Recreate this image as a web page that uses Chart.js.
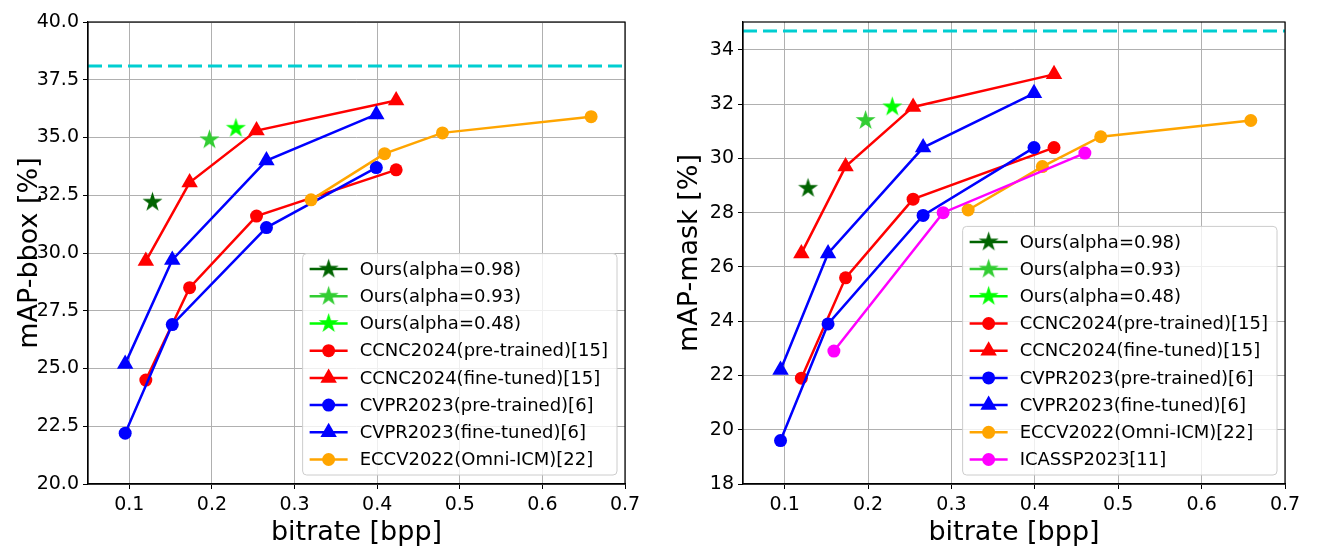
<!DOCTYPE html>
<html>
<head>
<meta charset="utf-8">
<script src="https://cdn.jsdelivr.net/npm/chart.js@4.4.1/dist/chart.umd.min.js"></script>
<style>
  body { margin: 0; background: #fff; }
  .wrap { position: absolute; top: 0; width: 660px; height: 550px; }
</style>
</head>
<body>
<div class="wrap" style="left:0"><canvas id="bboxChart" width="660" height="550"></canvas></div>
<div class="wrap" style="left:660px"><canvas id="maskChart" width="660" height="550"></canvas></div>
<script>
// bitrates (bpp)
const oursRates = [0.128, 0.197, 0.229];
const ccncRates = [0.12, 0.173, 0.254, 0.423];
const cvprRates = [0.095, 0.152, 0.266, 0.399];
const eccvRates = [0.32, 0.409, 0.479, 0.659];
const icasspRates = [0.159, 0.29, 0.46];

// mAP-bbox [%]
const bboxOurs = [32.2, 34.9, 35.4];
const bboxCcncPre = [24.5, 28.5, 31.6, 33.6];
const bboxCcncFine = [29.65, 33.05, 35.3, 36.6];
const bboxCvprPre = [22.2, 26.9, 31.1, 33.7];
const bboxCvprFine = [25.2, 29.7, 34.0, 36.0];
const bboxEccv = [32.3, 34.3, 35.2, 35.9];
const bboxRef = 38.1;

// mAP-mask [%]
const maskOurs = [28.9, 31.4, 31.9];
const maskCcncPre = [21.9, 25.6, 28.5, 30.4];
const maskCcncFine = [26.5, 29.7, 31.9, 33.1];
const maskCvprPre = [19.6, 23.9, 27.9, 30.4];
const maskCvprFine = [22.2, 26.5, 30.4, 32.4];
const maskEccv = [28.1, 29.7, 30.8, 31.4];
const maskIcassp = [22.9, 28.0, 30.2];
const maskRef = 34.7;

const xTicks = [0.1, 0.2, 0.3, 0.4, 0.5, 0.6, 0.7];
const bboxTicks = [20, 22.5, 25, 27.5, 30, 32.5, 35, 37.5, 40];
const maskTicks = [18, 20, 22, 24, 26, 28, 30, 32, 34];

const oursLabels = ['Ours(alpha=0.98)', 'Ours(alpha=0.93)', 'Ours(alpha=0.48)'];
const oursColors = ['#006400', '#32cd32', '#00ff00'];

const FONT = '"DejaVu Sans", sans-serif';

function makeStar(color, r) {
  const c = document.createElement('canvas');
  c.width = c.height = Math.ceil(2 * r + 2);
  const g = c.getContext('2d');
  const cx = c.width / 2, cy = c.height / 2;
  g.beginPath();
  for (let i = 0; i < 10; i++) {
    const rad = i % 2 === 0 ? r : r * 0.382;
    const ang = -Math.PI / 2 + i * Math.PI / 5;
    const px = cx + rad * Math.cos(ang), py = cy + rad * Math.sin(ang);
    if (i === 0) g.moveTo(px, py); else g.lineTo(px, py);
  }
  g.closePath();
  g.fillStyle = color;
  g.fill();
  return c;
}

function pts(xs, ys) {
  return xs.map((x, i) => ({ x: x, y: ys[i] }));
}

function series(label, color, style, xs, ys) {
  const radius = style === 'triangle' ? 9.5 : 6.5;
  return {
    label: label, data: pts(xs, ys),
    borderColor: color, backgroundColor: color,
    borderWidth: 2.5, pointStyle: style, pointRadius: radius,
    pointBorderWidth: 0, tension: 0
  };
}

function oursSets(ys) {
  return ys.map((y, i) => ({
    label: oursLabels[i], data: [{ x: oursRates[i], y: y }],
    borderColor: oursColors[i], backgroundColor: oursColors[i],
    borderWidth: 2.5, pointStyle: makeStar(oursColors[i], 10.5), pointRadius: 10,
    showLine: false
  }));
}

function refLine(y) {
  return {
    label: '', noLegend: true,
    data: [{ x: 0.05, y: y }, { x: 0.7, y: y }],
    borderColor: '#00ced1', borderWidth: 3, borderDash: [14, 6],
    pointRadius: 0
  };
}

const boxLegend = {
  id: 'boxLegend',
  afterDraw(chart) {
    const items = chart.data.datasets.filter(d => !d.noLegend);
    const ctx = chart.ctx, a = chart.chartArea;
    ctx.save();
    ctx.font = '18px ' + FONT;
    const tw = Math.max(...items.map(d => ctx.measureText(d.label).width));
    const rowH = 27.2;
    const w = 57 + tw + 9;
    const h = (items.length - 1) * rowH + 31;
    const x0 = a.right - 8 - w, y0 = a.bottom - 9 - h;
    ctx.beginPath();
    ctx.roundRect(x0, y0, w, h, 4);
    ctx.fillStyle = 'rgba(255,255,255,0.8)';
    ctx.fill();
    ctx.strokeStyle = '#cccccc';
    ctx.lineWidth = 1;
    ctx.stroke();
    items.forEach((d, i) => {
      const cy = y0 + 15.5 + i * rowH;
      ctx.beginPath();
      ctx.moveTo(x0 + 7, cy);
      ctx.lineTo(x0 + 45, cy);
      ctx.strokeStyle = d.borderColor;
      ctx.lineWidth = d.borderWidth;
      ctx.stroke();
      ctx.fillStyle = d.backgroundColor;
      ctx.strokeStyle = d.borderColor;
      Chart.helpers.drawPoint(ctx, { pointStyle: d.pointStyle, radius: d.pointRadius, borderWidth: 0, rotation: 0 }, x0 + 26, cy);
      ctx.fillStyle = '#000';
      ctx.textBaseline = 'middle';
      ctx.textAlign = 'left';
      ctx.fillText(d.label, x0 + 57, cy + 1);
    });
    ctx.restore();
  }
};

const frame = {
  id: 'frame',
  afterDatasetsDraw(chart) {
    const a = chart.chartArea, ctx = chart.ctx;
    ctx.save();
    ctx.strokeStyle = '#000';
    ctx.lineWidth = 1.2;
    ctx.strokeRect(a.left, a.top, a.right - a.left, a.bottom - a.top);
    ctx.restore();
  }
};

function makeChart(id, datasets, yTicks, yMin, yMax, yTitle, yWidth, yFmt) {
  datasets.forEach((d, i) => { d.order = -i; });
  new Chart(document.getElementById(id).getContext('2d'), {
    type: 'line',
    data: { datasets: datasets },
    plugins: [frame, boxLegend],
    options: {
      responsive: false, animation: false, events: [],
      layout: { padding: { top: 22, right: 35, bottom: 0, left: 0 } },
      plugins: { legend: { display: false }, tooltip: { enabled: false } },
      scales: {
        x: {
          type: 'linear', min: 0.05, max: 0.7,
          afterBuildTicks: s => { s.ticks = xTicks.map(v => ({ value: v })); },
          afterFit: s => { s.height = 66; },
          grid: { color: '#b0b0b0', lineWidth: 1, tickColor: '#000', tickLength: 5 },
          border: { color: '#000', width: 1.2 },
          ticks: { color: '#000', font: { family: FONT, size: 19 }, padding: 5, maxRotation: 0,
                   callback: v => v.toFixed(1) },
          title: { display: true, text: 'bitrate [bpp]', color: '#000',
                   font: { family: FONT, size: 27 }, padding: { top: 0, bottom: 1 } }
        },
        y: {
          type: 'linear', min: yMin, max: yMax,
          afterBuildTicks: s => { s.ticks = yTicks.map(v => ({ value: v })); },
          afterFit: s => { s.width = yWidth; },
          grid: { color: '#b0b0b0', lineWidth: 1, tickColor: '#000', tickLength: 5 },
          border: { color: '#000', width: 1.2 },
          ticks: { color: '#000', font: { family: FONT, size: 19 }, padding: 4, callback: yFmt },
          title: { display: true, text: yTitle, color: '#000',
                   font: { family: FONT, size: 27 }, padding: { top: 14, bottom: 0 } }
        }
      }
    }
  });
}

makeChart('bboxChart', [
  ...oursSets(bboxOurs),
  series('CCNC2024(pre-trained)[15]', '#ff0000', 'circle', ccncRates, bboxCcncPre),
  series('CCNC2024(fine-tuned)[15]', '#ff0000', 'triangle', ccncRates, bboxCcncFine),
  series('CVPR2023(pre-trained)[6]', '#0000ff', 'circle', cvprRates, bboxCvprPre),
  series('CVPR2023(fine-tuned)[6]', '#0000ff', 'triangle', cvprRates, bboxCvprFine),
  series('ECCV2022(Omni-ICM)[22]', '#ffa500', 'circle', eccvRates, bboxEccv),
  refLine(bboxRef)
], bboxTicks, 20, 40, 'mAP-bbox [%]', 88, v => v.toFixed(1));

makeChart('maskChart', [
  ...oursSets(maskOurs),
  series('CCNC2024(pre-trained)[15]', '#ff0000', 'circle', ccncRates, maskCcncPre),
  series('CCNC2024(fine-tuned)[15]', '#ff0000', 'triangle', ccncRates, maskCcncFine),
  series('CVPR2023(pre-trained)[6]', '#0000ff', 'circle', cvprRates, maskCvprPre),
  series('CVPR2023(fine-tuned)[6]', '#0000ff', 'triangle', cvprRates, maskCvprFine),
  series('ECCV2022(Omni-ICM)[22]', '#ffa500', 'circle', eccvRates, maskEccv),
  series('ICASSP2023[11]', '#ff00ff', 'circle', icasspRates, maskIcassp),
  refLine(maskRef)
], maskTicks, 18, 35.03, 'mAP-mask [%]', 83, v => String(v));
</script>
</body>
</html>
